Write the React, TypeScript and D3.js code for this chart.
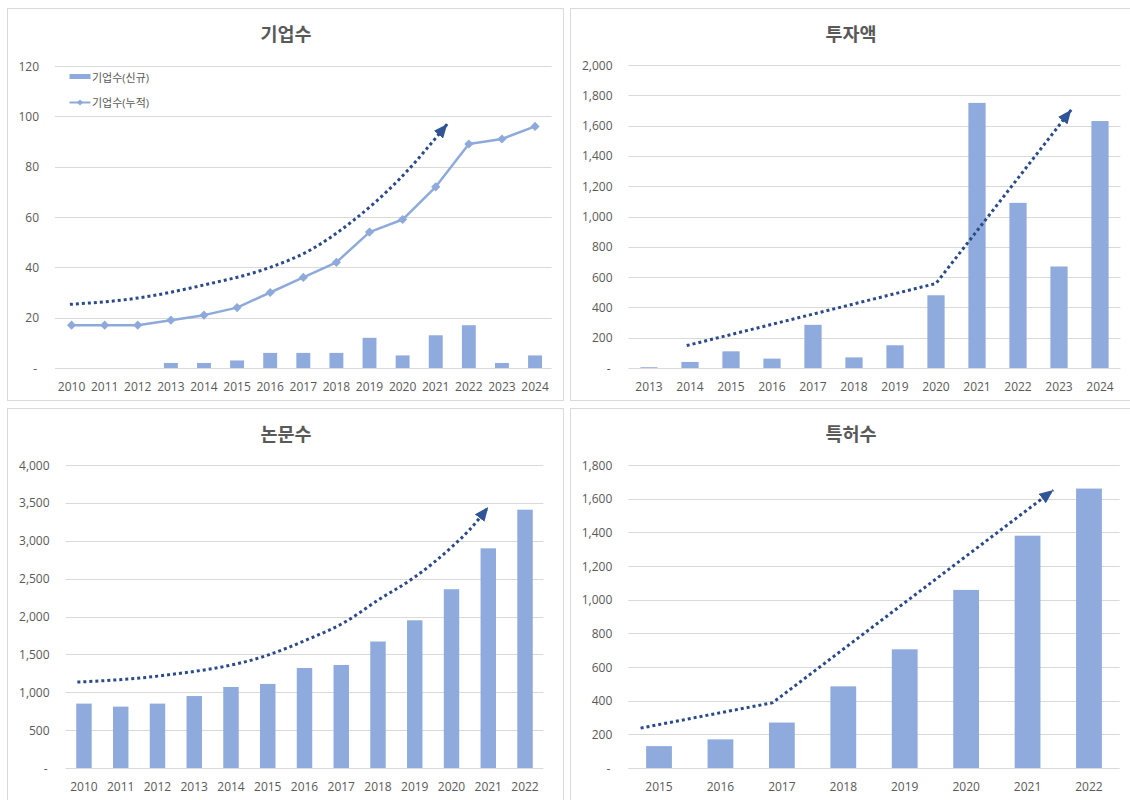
import React from "react";
import * as d3 from "d3";

// ---- data ----
const companyYears = ["2010","2011","2012","2013","2014","2015","2016","2017","2018","2019","2020","2021","2022","2023","2024"];
const companyNew = [0, 0, 0, 2, 2, 3, 6, 6, 6, 12, 5, 13, 17, 2, 5];
const companyCum = [17, 17, 17, 19, 21, 24, 30, 36, 42, 54, 59, 72, 89, 91, 96];
const companyTicks = [0, 20, 40, 60, 80, 100, 120];
const companyTrend: [number, number][] = [
  [2009.95, 25.3], [2012, 27.8], [2014, 33], [2016, 40], [2017.2, 46.8],
  [2018.5, 58.5], [2019.9, 75], [2021.35, 97],
];

const investYears = ["2013","2014","2015","2016","2017","2018","2019","2020","2021","2022","2023","2024"];
const investAmount = [5, 40, 110, 62, 285, 70, 150, 480, 1750, 1090, 670, 1630];
const investTicks = [0, 200, 400, 600, 800, 1000, 1200, 1400, 1600, 1800, 2000];
const investTrend: [number, number][] = [[2013.92, 148], [2020, 558], [2023.3, 1705]];

const paperYears = ["2010","2011","2012","2013","2014","2015","2016","2017","2018","2019","2020","2021","2022"];
const paperCount = [850, 810, 850, 950, 1070, 1110, 1320, 1360, 1670, 1950, 2360, 2900, 3410];
const paperTicks = [0, 500, 1000, 1500, 2000, 2500, 3000, 3500, 4000];
const paperTrend: [number, number][] = [
  [2009.82, 1134], [2012, 1213], [2015, 1490], [2016.1, 1700], [2017.1, 1926],
  [2018, 2216], [2019, 2520], [2020, 2915], [2020.5, 3150], [2021.0, 3445],
];

const patentYears = ["2015","2016","2017","2018","2019","2020","2021","2022"];
const patentCount = [130, 170, 270, 485, 705, 1058, 1380, 1660];
const patentTicks = [0, 200, 400, 600, 800, 1000, 1200, 1400, 1600, 1800];
const patentTrend: [number, number][] = [[2014.7, 237], [2016.85, 388], [2021.42, 1651]];

// ---- styles ----
const BAR = "#8faadc";
const LINE = "#8eaadb";
const GRID = "#d9d9d9";
const TEXT = "#595959";
const TREND = "#2b4a8b";
const HEAD = "#2f5597";
const FONT = "'Open Sans', 'Noto Sans CJK KR', sans-serif";
const TITLE_FONT = "'Noto Sans CJK KR', sans-serif";

const fmt = (v: number) => (v === 0 ? "-" : d3.format(",")(v));

type PanelProps = {
  id: string;
  title: string;
  box: { x: number; y: number; w: number; h: number };
  titleX: number;
  plot: { left: number; right: number; top: number; bottom: number };
  titleY: number;
  years: string[];
  bars: number[];
  ticks: number[];
  trend: [number, number][];
  smooth: boolean;
  cum?: number[];
  legend?: boolean;
};

function Panel(p: PanelProps) {
  const x = d3
    .scaleBand<string>()
    .domain(p.years)
    .range([p.plot.left, p.plot.right])
    .paddingInner(0.58)
    .paddingOuter(0.29);
  const y = d3
    .scaleLinear()
    .domain([0, p.ticks[p.ticks.length - 1]])
    .range([p.plot.bottom, p.plot.top]);
  const bw = x.bandwidth();
  const step = x.step();
  const first = +p.years[0];
  const cx = (yr: string) => (x(yr) as number) + bw / 2;
  const fx = (yr: number) => cx(p.years[0]) + (yr - first) * step;

  const trendPath = d3
    .line<[number, number]>()
    .x((d) => fx(d[0]))
    .y((d) => y(d[1]))
    .curve(p.smooth ? d3.curveMonotoneX : d3.curveLinear)(p.trend) as string;

  const cumPath = p.cum
    ? (d3
        .line<number>()
        .x((_, i) => cx(p.years[i]))
        .y((d) => y(d))(p.cum) as string)
    : null;

  const diamond = (px: number, py: number, r: number) =>
    `M${px},${py - r}L${px + r},${py}L${px},${py + r}L${px - r},${py}Z`;

  return (
    <g>
      <rect
        x={p.box.x}
        y={p.box.y}
        width={p.box.w}
        height={p.box.h}
        fill="#fff"
        stroke={GRID}
        strokeWidth={1}
      />
      <text
        x={p.titleX}
        y={p.titleY}
        textAnchor="middle"
        dominantBaseline="central"
        fontFamily={TITLE_FONT}
        fontSize={18.5}
        fontWeight="bold"
        fill={TEXT}
      >
        {p.title}
      </text>
      {p.ticks.map((t) => (
        <g key={t}>
          <line
            x1={p.plot.left}
            x2={p.plot.right}
            y1={Math.round(y(t)) + 0.5}
            y2={Math.round(y(t)) + 0.5}
            stroke={GRID}
            strokeWidth={1}
          />
          <text
            x={p.plot.left - (t === 0 ? 18 : 16)}
            y={y(t)}
            textAnchor="end"
            dominantBaseline="central"
            fontFamily={FONT}
            fontSize={12}
            fill={TEXT}
          >
            {fmt(t)}
          </text>
        </g>
      ))}
      {p.years.map((yr, i) => (
        <g key={yr}>
          {p.bars[i] > 0 && (
            <rect
              x={x(yr)}
              y={y(p.bars[i])}
              width={bw}
              height={p.plot.bottom - y(p.bars[i])}
              fill={BAR}
            />
          )}
          <text
            x={cx(yr)}
            y={p.plot.bottom + 18.5}
            textAnchor="middle"
            dominantBaseline="central"
            fontFamily={FONT}
            fontSize={12}
            fill={TEXT}
          >
            {yr}
          </text>
        </g>
      ))}
      {cumPath && (
        <g>
          <path d={cumPath} fill="none" stroke={LINE} strokeWidth={2.5} strokeLinejoin="round" />
          {p.cum!.map((v, i) => (
            <path key={i} d={diamond(cx(p.years[i]), y(v), 4.6)} fill={LINE} />
          ))}
        </g>
      )}
      <path
        d={trendPath}
        fill="none"
        stroke={TREND}
        strokeWidth={3}
        strokeDasharray="3 3"
        markerEnd={`url(#head-${p.id})`}
      />
      <defs>
        <marker
          id={`head-${p.id}`}
          markerUnits="userSpaceOnUse"
          viewBox="0 0 14 12"
          refX={14}
          refY={6}
          markerWidth={14}
          markerHeight={12}
          orient="auto"
        >
          <path d="M0,0L14,6L0,12Z" fill={HEAD} />
        </marker>
      </defs>
      {p.legend && (
        <g fontFamily={FONT} fontSize={11} fill={TEXT}>
          <rect x={p.plot.left + 14.5} y={74} width={21} height={5} fill={BAR} />
          <text x={p.plot.left + 37} y={77} dominantBaseline="central">
            기업수(신규)
          </text>
          <line
            x1={p.plot.left + 14.5}
            x2={p.plot.left + 35.5}
            y1={102.5}
            y2={102.5}
            stroke={LINE}
            strokeWidth={2}
          />
          <path d={diamond(p.plot.left + 25, 102.5, 3)} fill={LINE} />
          <text x={p.plot.left + 37} y={102} dominantBaseline="central">
            기업수(누적)
          </text>
        </g>
      )}
    </g>
  );
}

export default function App() {
  return (
    <svg
      width={1130}
      height={800}
      style={{ position: "absolute", left: 0, top: 0, background: "#fff" }}
    >
      <rect width={1130} height={800} fill="#fff" />
      <Panel
        id="company"
        title="기업수"
        box={{ x: 7.5, y: 8.5, w: 556, h: 392 }}
        titleX={286}
        plot={{ left: 55, right: 551.6, top: 66, bottom: 368 }}
        titleY={33}
        years={companyYears}
        bars={companyNew}
        ticks={companyTicks}
        trend={companyTrend}
        smooth={true}
        cum={companyCum}
        legend={true}
      />
      <Panel
        id="invest"
        title="투자액"
        box={{ x: 570.5, y: 8.5, w: 570, h: 392 }}
        titleX={851}
        plot={{ left: 628.5, right: 1120.5, top: 65, bottom: 368 }}
        titleY={33}
        years={investYears}
        bars={investAmount}
        ticks={investTicks}
        trend={investTrend}
        smooth={false}
      />
      <Panel
        id="paper"
        title="논문수"
        box={{ x: 7.5, y: 408.5, w: 556, h: 400 }}
        titleX={286}
        plot={{ left: 65.6, right: 543.4, top: 465, bottom: 768 }}
        titleY={433}
        years={paperYears}
        bars={paperCount}
        ticks={paperTicks}
        trend={paperTrend}
        smooth={true}
      />
      <Panel
        id="patent"
        title="특허수"
        box={{ x: 570.5, y: 408.5, w: 570, h: 400 }}
        titleX={851}
        plot={{ left: 628.3, right: 1119.7, top: 465, bottom: 768 }}
        titleY={433}
        years={patentYears}
        bars={patentCount}
        ticks={patentTicks}
        trend={patentTrend}
        smooth={false}
      />
    </svg>
  );
}
